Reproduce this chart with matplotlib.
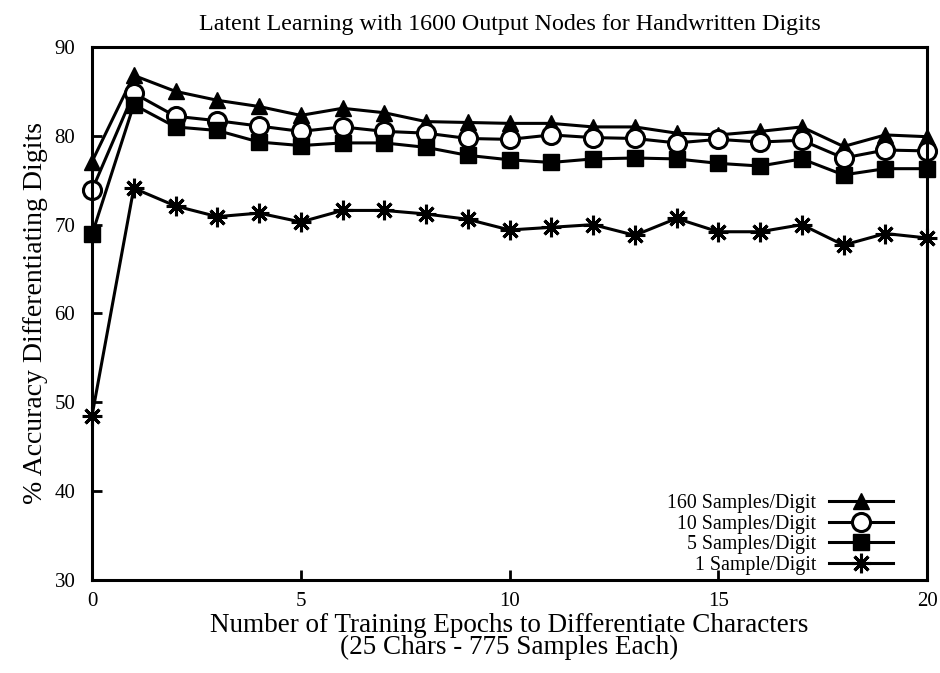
import matplotlib
matplotlib.use("Agg")
import matplotlib.pyplot as plt

plt.rcParams['font.family'] = ['Liberation Serif', 'DejaVu Serif']

# epochs 0..20
epochs = list(range(21))

# accuracy per training-sample count
acc_160 = [77.1, 86.8, 85.0, 84.0, 83.3, 82.3, 83.1, 82.6, 81.6, 81.5, 81.4,
           81.4, 81.0, 81.0, 80.3, 80.1, 80.5, 81.0, 78.8, 80.1, 79.9]
acc_10 = [73.9, 84.8, 82.2, 81.7, 81.1, 80.5, 81.0, 80.5, 80.3, 79.7, 79.6,
          80.1, 79.8, 79.7, 79.2, 79.6, 79.3, 79.5, 77.5, 78.4, 78.3]
acc_5 = [68.9, 83.5, 81.0, 80.6, 79.3, 78.9, 79.2, 79.2, 78.7, 77.8, 77.3,
         77.0, 77.4, 77.5, 77.4, 76.9, 76.6, 77.4, 75.6, 76.3, 76.3]
acc_1 = [48.5, 74.1, 72.1, 70.9, 71.3, 70.3, 71.6, 71.6, 71.2, 70.6, 69.4,
         69.7, 70.0, 68.8, 70.7, 69.2, 69.2, 70.0, 67.7, 69.0, 68.5]

labels = ['160 Samples/Digit', '10 Samples/Digit', '5 Samples/Digit', '1 Sample/Digit']

fig = plt.figure(figsize=(9.4, 6.73), dpi=100)
ax = fig.add_axes([0.0979, 0.1382, 0.8883, 0.7920])

lw = 2.2
ax.plot(epochs, acc_160, color='black', lw=lw, marker='^', ms=11,
        clip_on=False, label=labels[0])
ax.plot(epochs, acc_10, color='black', lw=lw, marker='o', ms=13, mfc='white',
        mew=2.2, clip_on=False, label=labels[1])
ax.plot(epochs, acc_5, color='black', lw=lw, marker='s', ms=11,
        clip_on=False, label=labels[2])
ax.plot(epochs, acc_1, color='black', lw=lw, marker=(8, 2, 0), ms=14, mew=2.2,
        clip_on=False, label=labels[3])

ax.set_xlim(0, 20)
ax.set_ylim(30, 90)
ax.set_xticks([0, 5, 10, 15, 20])
ax.set_yticks([30, 40, 50, 60, 70, 80, 90])
ax.tick_params(direction='in', length=7, width=2, labelsize=15, pad=12)
ax.tick_params(axis='x', pad=9)
for s in ax.spines.values():
    s.set_linewidth(2.2)

ax.set_title('Latent Learning with 1600 Output Nodes for Handwritten Digits',
             fontsize=17.3, pad=12)
ax.set_xlabel('Number of Training Epochs to Differentiate Characters\n'
              '(25 Chars - 775 Samples Each)', fontsize=19.5, linespacing=0.85,
              labelpad=1)
ax.set_ylabel('% Accuracy Differentiating Digits', fontsize=20, labelpad=5)

# markerfirst=False right-aligns the rows, text then line sample
ax.legend(loc='lower right', bbox_to_anchor=(0.965, 0.0), frameon=False,
          markerfirst=False, fontsize=14.3, handlelength=3.2, labelspacing=0.08,
          handletextpad=0.65, borderaxespad=0.0, borderpad=0.25)

fig.savefig('out.png', dpi=100)
